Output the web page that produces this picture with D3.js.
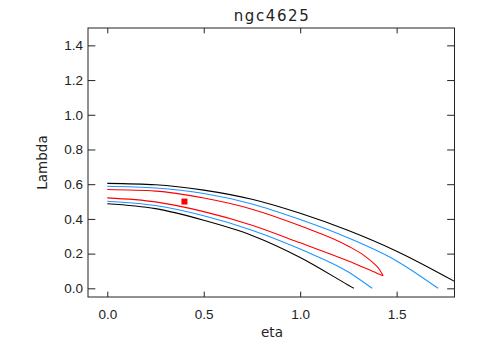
<!DOCTYPE html>
<html>
<head>
<meta charset="utf-8">
<script src="https://cdn.jsdelivr.net/npm/d3@7/dist/d3.min.js"></script>
<style>
  body { margin: 0; background: #fff; }
  svg { display: block; font-family: "DejaVu Sans", sans-serif; }
</style>
</head>
<body>
<svg id="chart"></svg>
<script>
// values
const title = "ngc4625";
const xLabel = "eta";
const yLabel = "Lambda";

const xTicks = [0.0, 0.5, 1.0, 1.5];
const yTicks = [0.0, 0.2, 0.4, 0.6, 0.8, 1.0, 1.2, 1.4];

// outer contour (black), two branches
const blackHiEta = [0.00, 0.25, 0.50, 0.75, 1.00, 1.25, 1.50, 1.80];
const blackHiLam = [0.605, 0.597, 0.566, 0.513, 0.432, 0.333, 0.214, 0.040];
const blackLoEta = [0.00, 0.25, 0.50, 0.75, 1.00, 1.25, 1.278];
const blackLoLam = [0.487, 0.459, 0.392, 0.305, 0.178, 0.018, 0.0];

// middle contour (blue)
const blueHiEta = [0.00, 0.25, 0.50, 0.75, 1.00, 1.25, 1.50, 1.715];
const blueHiLam = [0.588, 0.578, 0.546, 0.486, 0.396, 0.290, 0.158, 0.0];
const blueLoEta = [0.00, 0.25, 0.50, 0.75, 1.00, 1.25, 1.373];
const blueLoLam = [0.502, 0.477, 0.418, 0.335, 0.226, 0.094, 0.0];

// inner contour (red), both branches meet at the tip
const redHiEta = [0.00, 0.25, 0.50, 0.75, 1.00, 1.25, 1.33, 1.38, 1.41, 1.43];
const redHiLam = [0.569, 0.560, 0.520, 0.456, 0.360, 0.243, 0.190, 0.145, 0.110, 0.072];
const redLoEta = [0.00, 0.25, 0.50, 0.75, 1.00, 1.25, 1.40, 1.43];
const redLoLam = [0.521, 0.498, 0.442, 0.364, 0.262, 0.157, 0.086, 0.072];

// best-fit marker
const markEta = [0.4];
const markLam = [0.5];

const colors = { black: "#000000", blue: "#1a96ff", red: "#ff0000" };

const W = 481, H = 354;
const margin = { top: 28, right: 26.5, bottom: 57, left: 88 };
const width = W - margin.left - margin.right;
const height = H - margin.top - margin.bottom;

const svg = d3.select("#chart").attr("width", W).attr("height", H);
const g = svg.append("g").attr("transform", `translate(${margin.left},${margin.top})`);

const x = d3.scaleLinear().domain([-0.1, 1.8]).range([0, width]);
const y = d3.scaleLinear().domain([-0.05, 1.5]).range([height, 0]);

const zip = (a, b) => a.map((v, i) => [v, b[i]]);

const line = d3.line()
  .x(d => x(d[0]))
  .y(d => y(d[1]))
  .curve(d3.curveMonotoneX);

const curves = [
  { pts: zip(blackHiEta, blackHiLam), c: colors.black },
  { pts: zip(blackLoEta, blackLoLam), c: colors.black },
  { pts: zip(blueHiEta, blueHiLam), c: colors.blue },
  { pts: zip(blueLoEta, blueLoLam), c: colors.blue },
  { pts: zip(redHiEta, redHiLam), c: colors.red },
  { pts: zip(redLoEta, redLoLam), c: colors.red }
];

g.append("defs").append("clipPath").attr("id", "clip")
  .append("rect").attr("width", width).attr("height", height);

g.append("g").attr("clip-path", "url(#clip)")
  .selectAll("path")
  .data(curves)
  .enter()
  .append("path")
  .attr("fill", "none")
  .attr("stroke", d => d.c)
  .attr("stroke-width", 1.1)
  .attr("stroke-linejoin", "round")
  .attr("d", d => line(d.pts));

g.selectAll("rect.mark")
  .data(zip(markEta, markLam))
  .enter()
  .append("rect")
  .attr("class", "mark")
  .attr("x", d => x(d[0]) - 3)
  .attr("y", d => y(d[1]) - 3)
  .attr("width", 6)
  .attr("height", 6)
  .attr("fill", colors.red);

// axes: IDL style, ticks inward on all four sides
const xTickLen = 0.02 * height;
const yTickLen = 0.02 * width;

const styleAxis = sel => {
  sel.select(".domain").remove();
  sel.selectAll("line").attr("stroke", "#222").attr("stroke-width", 1);
  sel.selectAll("text").attr("fill", "#222").style("font-size", "13.5px");
};

g.append("g")
  .attr("transform", `translate(0,${height})`)
  .call(d3.axisBottom(x).tickValues(xTicks).tickFormat(d3.format(".1f"))
    .tickSize(-xTickLen).tickPadding(12.5))
  .call(styleAxis);

g.append("g")
  .call(d3.axisTop(x).tickValues(xTicks).tickFormat("").tickSize(-xTickLen))
  .call(styleAxis);

g.append("g")
  .call(d3.axisLeft(y).tickValues(yTicks).tickFormat(d3.format(".1f"))
    .tickSize(-yTickLen).tickPadding(5))
  .call(styleAxis);

g.append("g")
  .attr("transform", `translate(${width},0)`)
  .call(d3.axisRight(y).tickValues(yTicks).tickFormat("").tickSize(-yTickLen))
  .call(styleAxis);

g.append("rect")
  .attr("width", width)
  .attr("height", height)
  .attr("fill", "none")
  .attr("stroke", "#222")
  .attr("stroke-width", 1);

svg.append("text")
  .attr("x", margin.left + width / 2 + 0.8)
  .attr("y", 21)
  .attr("text-anchor", "middle")
  .attr("fill", "#222")
  .style("font-size", "15px")
  .style("letter-spacing", "1.6px")
  .text(title);

svg.append("text")
  .attr("x", 272)
  .attr("y", 337)
  .attr("text-anchor", "middle")
  .attr("fill", "#222")
  .style("font-size", "13.5px")
  .text(xLabel);

svg.append("text")
  .attr("transform", `translate(47,${margin.top + height / 2}) rotate(-90)`)
  .attr("text-anchor", "middle")
  .attr("fill", "#222")
  .style("font-size", "13.5px")
  .text(yLabel);
</script>
</body>
</html>
